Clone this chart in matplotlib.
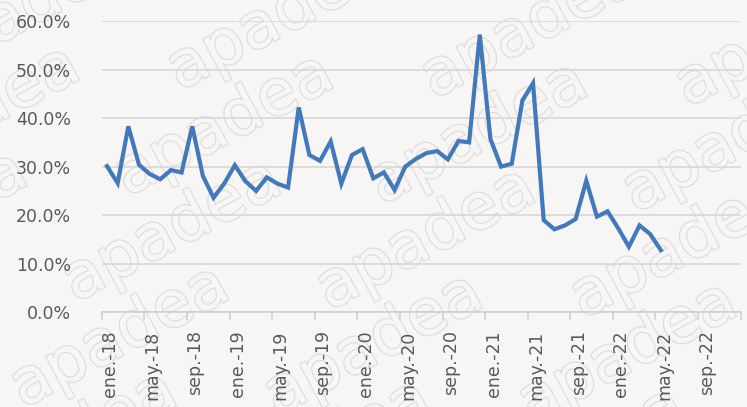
import matplotlib
matplotlib.use("Agg")
import matplotlib.pyplot as plt
import matplotlib.patheffects as pe
import numpy as np

# Monthly share, ene.-18 .. may.-22 (%)
months = ["ene.", "feb.", "mar.", "abr.", "may.", "jun.",
          "jul.", "ago.", "sep.", "oct.", "nov.", "dic."]
years = [18, 19, 20, 21, 22]
values = [
    30.1, 26.6, 38.3, 30.4, 28.5, 27.4, 29.3, 28.8, 38.3, 28.1, 23.6, 26.5,
    30.3, 27.0, 25.0, 27.8, 26.5, 25.7, 42.2, 32.4, 31.2, 35.2, 26.5, 32.4,
    33.6, 27.6, 28.8, 25.2, 30.0, 31.6, 32.8, 33.2, 31.5, 35.3, 35.0, 57.2,
    35.7, 30.0, 30.6, 43.6, 47.2, 19.0, 17.1, 17.9, 19.2, 27.1, 19.7, 20.8,
    17.3, 13.5, 17.9, 16.1, 12.8,
]
categories = [f"{m}-{y}" for y in years for m in months]  # 60 slots on the axis
tick_labels = categories[::4]

bg = "#f7f6f4"
grey = "#595959"
blue = "#4279bd"

fig = plt.figure(figsize=(7.47, 4.07), dpi=100, facecolor=bg)
ax = fig.add_axes([101.7 / 747, 1 - 312.3 / 407, 639 / 747, 291.3 / 407])
ax.patch.set_visible(False)
ax.set_zorder(2)

# faint outlined watermark tiled over the whole canvas, behind the axes
for row in range(-2, 5):
    for col in range(-1, 4):
        x = col * 0.34 + row * 0.07
        y = row * 0.26 - col * 0.02
        fig.text(x, y, "apadea", fontsize=46, color=bg, rotation=28,
                 family="DejaVu Sans", zorder=1,
                 path_effects=[pe.Stroke(linewidth=1.8, foreground="#e0dedb"),
                               pe.Normal()])

xs = np.arange(len(values))
ax.plot(xs, np.array(values) / 100, color=blue, lw=3.0, zorder=3,
        solid_joinstyle="miter")

ax.set_xlim(-0.5, len(categories) - 0.5)
ax.set_ylim(0, 0.6)
ax.set_yticks(np.arange(0, 0.61, 0.1))
ax.set_yticklabels([f"{v * 100:.1f}%" for v in np.arange(0, 0.61, 0.1)])
ax.grid(axis="y", color="#d6d5d3", lw=1.1, zorder=1)
ax.set_axisbelow(True)

# boundary tick marks every 4 months, labels centred on the category
ax.set_xticks(np.arange(-0.5, len(categories), 4))
ax.set_xticklabels([])
ax.tick_params(axis="x", which="major", length=6, color="#cfcecc", width=1.1)
ax.set_xticks(np.arange(0, len(categories), 4) + 0.3, minor=True)
ax.set_xticklabels(tick_labels, minor=True, rotation=90, va="top", ha="center")
ax.tick_params(axis="x", which="minor", length=0, pad=13, labelsize=12.5,
               labelcolor=grey)
ax.tick_params(axis="y", length=0, pad=22, labelsize=12.5, labelcolor=grey)

for s in ["top", "right", "left"]:
    ax.spines[s].set_visible(False)
ax.spines["bottom"].set_color("#cfcecc")
ax.spines["bottom"].set_linewidth(1.1)

fig.savefig("out.png", dpi=100, facecolor=bg)
